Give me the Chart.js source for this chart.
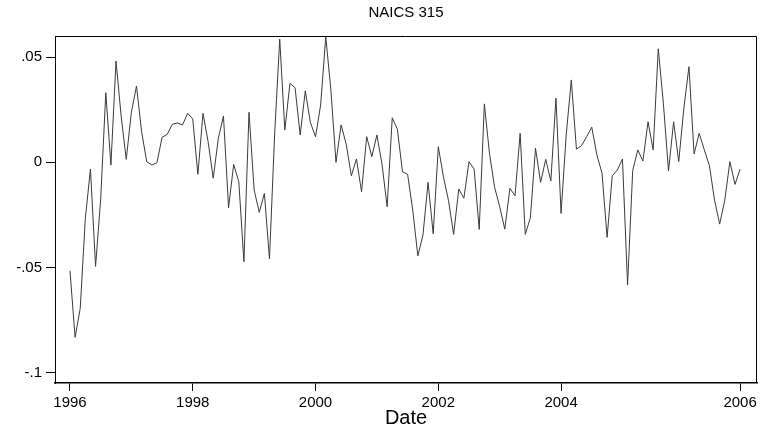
<!DOCTYPE html>
<html>
<head>
<meta charset="utf-8">
<script src="https://cdn.jsdelivr.net/npm/chart.js@4.4.1/dist/chart.umd.min.js"></script>
<style>
  html, body { margin: 0; padding: 0; background: #fff; }
  #wrap { width: 761px; height: 433px; }
</style>
</head>
<body>
<div id="wrap"><canvas id="c" width="761" height="433"></canvas></div>
<script>
// ---- data (monthly, 1996m1 .. 2006m12) ----
const startYear = 1996;
const values = [
  -0.0516, -0.0833, -0.0695, -0.0267, -0.0032, -0.0495, -0.0175, 0.0331, -0.0013, 0.0482, 0.0220, 0.0014,
   0.0238,  0.0363,  0.0146,  0.0003, -0.0013, -0.0002,  0.0119, 0.0133,  0.0181, 0.0187, 0.0178, 0.0233,
   0.0206, -0.0057,  0.0233,  0.0098, -0.0076,  0.0114,  0.0220,-0.0216, -0.0010,-0.0092,-0.0473, 0.0238,
  -0.0132, -0.0238, -0.0148, -0.0460,  0.0130,  0.0586,  0.0154, 0.0376,  0.0355, 0.0130, 0.0340, 0.0189,
   0.0122,  0.0273,  0.0597,  0.0344,  0.0000,  0.0178,  0.0086,-0.0064,  0.0016,-0.0140, 0.0122, 0.0027,
   0.0130, -0.0010, -0.0211,  0.0212,  0.0157, -0.0045, -0.0057,-0.0227, -0.0445,-0.0346,-0.0095,-0.0340,
   0.0074, -0.0069, -0.0183, -0.0343, -0.0127, -0.0171,  0.0003,-0.0032, -0.0319, 0.0278, 0.0043,-0.0118,
  -0.0211, -0.0318, -0.0124, -0.0159,  0.0138, -0.0343, -0.0264, 0.0067, -0.0095, 0.0014,-0.0089, 0.0305,
  -0.0243,  0.0130,  0.0392,  0.0063,  0.0079,  0.0122,  0.0167, 0.0035, -0.0052,-0.0357,-0.0064,-0.0037,
   0.0016, -0.0584, -0.0040,  0.0059,  0.0006,  0.0193,  0.0059, 0.0540,  0.0281,-0.0041, 0.0193, 0.0003,
   0.0257,  0.0455,  0.0040,  0.0138,  0.0059, -0.0016, -0.0180,-0.0294, -0.0180, 0.0003,-0.0105,-0.0032
];
const dates = values.map((v, i) => {
  const y = startYear + Math.floor(i / 12);
  const m = (i % 12) + 1;
  return y + '-' + String(m).padStart(2, '0');
});
const xTickDates  = ['1996-01', '1998-01', '2000-01', '2002-01', '2004-01', '2006-12'];
const xTickLabels = ['1996', '1998', '2000', '2002', '2004', '2006'];
const yTickValues = [0.05, 0, -0.05, -0.1];
const yTickLabels = ['.05', '0', '-.05', '-.1'];
const titleText = 'NAICS 315';
const xTitle = 'Date';

// ---- helpers ----
function monthIndex(d) {
  const [y, m] = d.split('-').map(Number);
  return (y - startYear) * 12 + (m - 1);
}
const points = dates.map((d, i) => ({ x: monthIndex(d), y: values[i] }));
const xTickPos = xTickDates.map(monthIndex);

const FONT = "'Liberation Sans', Arial, Helvetica, sans-serif";

const framePlugin = {
  id: 'frame',
  afterDraw(chart) {
    const { ctx, chartArea: a } = chart;
    ctx.save();
    ctx.strokeStyle = '#000';
    ctx.lineWidth = 1;
    ctx.beginPath();
    ctx.moveTo(a.left, a.top + 0.5);
    ctx.lineTo(a.right - 0.5, a.top + 0.5);
    ctx.lineTo(a.right - 0.5, a.bottom);
    ctx.stroke();
    // title, centred on plot area
    ctx.fillStyle = '#000';
    ctx.font = '15px ' + FONT;
    ctx.textAlign = 'center';
    ctx.textBaseline = 'middle';
    ctx.fillText(titleText, (a.left + a.right) / 2, 13);
    ctx.restore();
  }
};

new Chart(document.getElementById('c'), {
  type: 'line',
  data: {
    datasets: [{
      data: points,
      borderColor: '#3a3a3a',
      borderWidth: 1,
      pointRadius: 0,
      tension: 0,
      fill: false
    }]
  },
  options: {
    responsive: false,
    animation: false,
    devicePixelRatio: 1,
    layout: { padding: { top: 36, right: 4, left: 0, bottom: 0 } },
    plugins: { legend: { display: false }, title: { display: false }, tooltip: { enabled: false } },
    scales: {
      x: {
        type: 'linear',
        min: -2.93,
        max: 134.3,
        afterBuildTicks(scale) { scale.ticks = xTickPos.map(v => ({ value: v })); },
        afterFit(scale) { scale.height = 50; },
        ticks: {
          autoSkip: false,
          maxRotation: 0,
          padding: 3,
          color: '#000',
          font: { family: FONT, size: 15 },
          callback(value) { const k = xTickPos.indexOf(value); return k >= 0 ? xTickLabels[k] : ''; }
        },
        grid: { drawOnChartArea: false, drawTicks: true, tickLength: 8, color: '#000', lineWidth: 1 },
        border: { display: true, color: '#000', width: 1.5 },
        title: { display: true, text: xTitle, color: '#000', font: { family: FONT, size: 20 }, padding: { top: 0, bottom: 3 } }
      },
      y: {
        type: 'linear',
        min: -0.105,
        max: 0.0601,
        afterBuildTicks(scale) { scale.ticks = yTickValues.map(v => ({ value: v })); },
        afterFit(scale) { scale.width = 55; },
        ticks: {
          padding: 4,
          color: '#000',
          font: { family: FONT, size: 15 },
          callback(value) { const k = yTickValues.findIndex(t => Math.abs(t - value) < 1e-9); return k >= 0 ? yTickLabels[k] : ''; }
        },
        grid: { drawOnChartArea: false, drawTicks: true, tickLength: 9, color: '#000', lineWidth: 1 },
        border: { display: true, color: '#000', width: 1 }
      }
    }
  },
  plugins: [framePlugin]
});
</script>
</body>
</html>
